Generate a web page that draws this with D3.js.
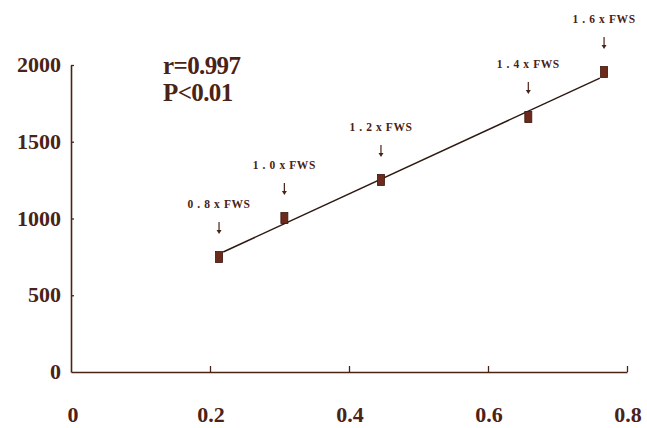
<!DOCTYPE html>
<html><head><meta charset="utf-8">
<script src="https://cdn.jsdelivr.net/npm/d3@7"></script>
<style>
html,body{margin:0;padding:0;background:#fff;}
svg{display:block;}
</style></head>
<body>
<svg id="chart" width="647" height="428"></svg>
<script>
// Data
const xValues = [0.213, 0.307, 0.446, 0.658, 0.767];
const yValues = [749, 1003, 1251, 1661, 1954];
const pointLabels = ["0 . 8 x FWS", "1 . 0 x FWS", "1 . 2 x FWS", "1 . 4 x FWS", "1 . 6 x FWS"];
const xTicks = [0, 0.2, 0.4, 0.6, 0.8];
const yTicks = [0, 500, 1000, 1500, 2000];
const statLines = ["r=0.997", "P<0.01"];

const ink = "#4a2216";
const markColor = "#6b2a1c";
const serif = "'Liberation Serif','Times New Roman',serif";

const svg = d3.select("#chart");
const x = d3.scaleLinear().domain([0, 0.8]).range([71, 627]);
const y = d3.scaleLinear().domain([0, 2000]).range([372, 65]);

// X axis (ticks pointing up)
const xAxis = svg.append("g").attr("transform", `translate(0,${y(0)})`)
  .call(d3.axisTop(x).tickValues(xTicks).tickSize(6).tickSizeOuter(0).tickFormat(""));
xAxis.select(".domain").attr("stroke", ink).attr("stroke-width", 1.6);
xAxis.selectAll(".tick line").attr("stroke", ink).attr("stroke-width", 1.3);
xAxis.selectAll(".tick").filter(d => d === 0).remove();

// Y axis (ticks pointing right)
const yAxis = svg.append("g").attr("transform", `translate(${x(0)},0)`)
  .call(d3.axisRight(y).tickValues(yTicks).tickSize(3).tickSizeOuter(0).tickFormat(""));
yAxis.select(".domain").attr("stroke", ink).attr("stroke-width", 1.6);
yAxis.selectAll(".tick line").attr("stroke", ink).attr("stroke-width", 1.3);
yAxis.selectAll(".tick").filter(d => d === 0).remove();

// Tick labels
svg.append("g").selectAll("text").data(xTicks).join("text")
  .attr("x", d => x(d) + (d === 0 ? 2 : 1)).attr("y", 422)
  .attr("text-anchor", "middle")
  .attr("font-family", serif).attr("font-weight", "bold").attr("font-size", 22)
  .attr("fill", ink)
  .text(d => d === 0 ? "0" : d3.format(".1f")(d));

svg.append("g").selectAll("text").data(yTicks).join("text")
  .attr("x", 61).attr("y", d => y(d) + 7)
  .attr("text-anchor", "end")
  .attr("font-family", serif).attr("font-weight", "bold").attr("font-size", 22)
  .attr("fill", ink)
  .text(d => d);

// Regression line computed from data
const mx = d3.mean(xValues), my = d3.mean(yValues);
const sxy = d3.sum(xValues, (v, i) => (v - mx) * (yValues[i] - my));
const sxx = d3.sum(xValues, v => (v - mx) * (v - mx));
const slope = sxy / sxx, intercept = my - slope * mx;
const x0 = d3.min(xValues) + 0.006, x1 = d3.max(xValues) - 0.006;
svg.append("line")
  .attr("x1", x(x0)).attr("y1", y(intercept + slope * x0))
  .attr("x2", x(x1)).attr("y2", y(intercept + slope * x1))
  .attr("stroke", "#2e1a12").attr("stroke-width", 1.5);

// Markers
const pts = xValues.map((v, i) => ({x: v, y: yValues[i], label: pointLabels[i]}));
svg.append("g").selectAll("rect").data(pts).join("rect")
  .attr("x", d => x(d.x) - 3.5).attr("y", d => y(d.y) - 5.5)
  .attr("width", 7).attr("height", 11)
  .attr("fill", markColor).attr("stroke", "#3c160c").attr("stroke-width", 0.8);

// Point labels and arrows
const lab = svg.append("g");
lab.selectAll("text").data(pts).join("text")
  .attr("x", d => x(d.x)).attr("y", d => y(d.y) - 49)
  .attr("text-anchor", "middle")
  .attr("font-family", serif).attr("font-weight", "bold").attr("font-size", 11.5)
  .attr("letter-spacing", 0.6)
  .attr("fill", ink)
  .text(d => d.label);
lab.selectAll("line").data(pts).join("line")
  .attr("x1", d => x(d.x)).attr("x2", d => x(d.x))
  .attr("y1", d => y(d.y) - 35).attr("y2", d => y(d.y) - 25)
  .attr("stroke", ink).attr("stroke-width", 1.2);
lab.selectAll("path").data(pts).join("path")
  .attr("d", d => {
    const cx = x(d.x), cy = y(d.y) - 23;
    return `M${cx - 2.5},${cy - 4} L${cx + 2.5},${cy - 4} L${cx},${cy} Z`;
  })
  .attr("fill", ink);

// Statistics text
svg.append("g").selectAll("text").data(statLines).join("text")
  .attr("x", 163).attr("y", (d, i) => 74 + i * 27)
  .attr("font-family", serif).attr("font-weight", "bold").attr("font-size", 25)
  .attr("letter-spacing", -0.6)
  .attr("fill", ink)
  .text(d => d);
</script>
</body></html>
